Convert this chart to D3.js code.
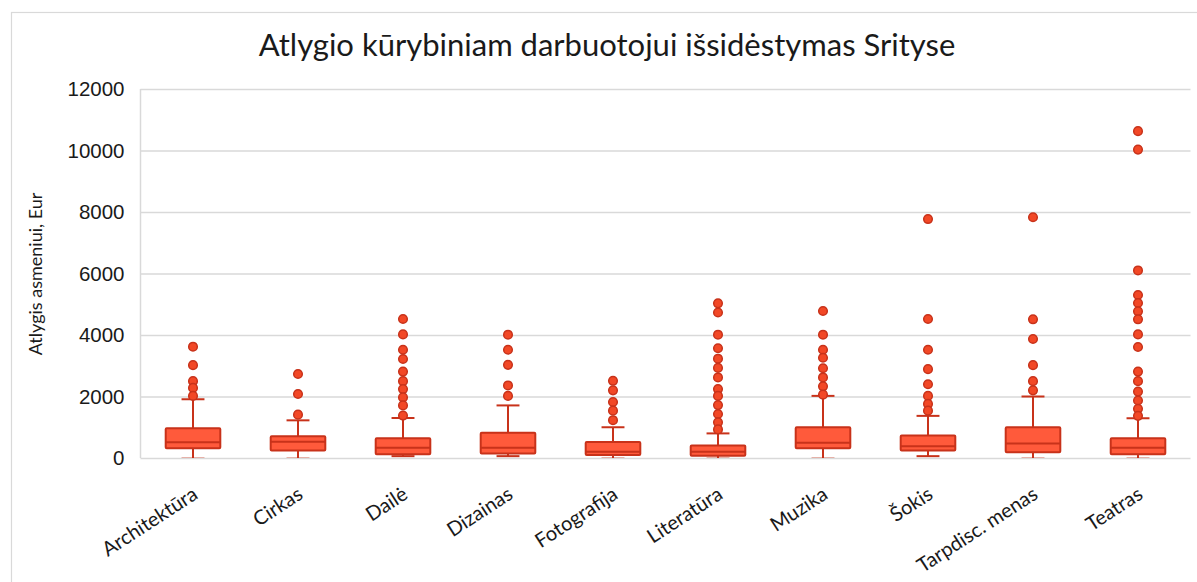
<!DOCTYPE html>
<html>
<head>
<meta charset="utf-8">
<script src="https://cdn.jsdelivr.net/npm/d3@7"></script>
<style>
  body { margin: 0; background: #fff; }
  svg { display: block; font-family: Lato, "Open Sans", sans-serif; }
</style>
</head>
<body>
<svg id="chart"></svg>
<script>
// Atlygio kurybiniam darbuotojui issidestymas pagal sritis (box plot)

const categories = ["Architektūra", "Cirkas", "Dailė", "Dizainas", "Fotografija",
    "Literatūra", "Muzika", "Šokis", "Tarpdisc. menas", "Teatras"]

const whiskerLow = [0, 0, 60, 60, 0, 0, 0, 60, 0, 0]
const q1 = [315, 240, 120, 150, 100, 75, 315, 240, 185, 120]
const median = [510, 525, 335, 335, 205, 200, 500, 380, 475, 335]
const q3 = [966, 705, 640, 820, 520, 410, 1000, 735, 1000, 640]
const whiskerHigh = [1910, 1225, 1300, 1710, 1000, 800, 2020, 1370, 2000, 1290]

const outliers = [
    [3620, 3020, 2500, 2280, 2020],
    [2730, 2080, 1410],
    [4520, 4020, 3520, 3220, 2810, 2500, 2240, 1970, 1710, 1380],
    [4010, 3520, 3030, 2360, 2020],
    [2510, 2200, 1820, 1540, 1230],
    [5030, 4730, 4010, 3570, 3230, 2930, 2620, 2240, 2020, 1720, 1430, 1160, 930],
    [4780, 4010, 3520, 3260, 2920, 2620, 2330, 2060],
    [7770, 4520, 3520, 2890, 2400, 2020, 1760, 1540],
    [7830, 4510, 3870, 3020, 2500, 2200],
    [10630, 10030, 6100, 5300, 5040, 4770, 4510, 4020, 3610, 2810, 2500, 2160, 1870, 1600, 1370]
]

const yTicks = [0, 2000, 4000, 6000, 8000, 10000, 12000]

const title = "Atlygio kūrybiniam darbuotojui išsidėstymas Srityse"
const yTitle = "Atlygis asmeniui, Eur"

const width = 1197
const height = 582
const plot = { left: 140.5, right: 1190.5, top: 89, bottom: 458 }

const boxFill = "#ff5a3b"
const boxStroke = "#c8321a"
const dotFill = "#f24826"

const svg = d3.select("#chart")
    .attr("width", width)
    .attr("height", height)

// chart frame (only left/top edges are visible in the picture)
svg.append("rect")
    .attr("x", 11.5).attr("y", 12.5)
    .attr("width", width + 20).attr("height", height + 20)
    .attr("fill", "none")
    .attr("stroke", "#d9d9d9")
    .attr("stroke-width", 1.2)

const x = d3.scaleBand()
    .domain(categories)
    .range([plot.left, plot.right])

const y = d3.scaleLinear()
    .domain([0, 12000])
    .range([plot.bottom, plot.top])

// grid
const yAxis = d3.axisLeft(y)
    .tickValues(yTicks)
    .tickSize(-(plot.right - plot.left))
    .tickPadding(16)
    .tickFormat(d3.format("d"))

const gy = svg.append("g")
    .attr("transform", `translate(${plot.left},0)`)
    .call(yAxis)

gy.select(".domain")
    .attr("stroke", "#d9d9d9")
    .attr("stroke-width", 1.5)
    .attr("d", `M0,${plot.top}V${plot.bottom}`)

gy.selectAll(".tick line")
    .attr("stroke", "#d9d9d9")
    .attr("stroke-width", 1.5)

gy.selectAll(".tick text")
    .attr("fill", "#1a1a1a")
    .style("font-size", "20.5px")

// clip so that caps sitting on zero get cut like in the original
svg.append("clipPath").attr("id", "plotClip")
    .append("rect")
    .attr("x", plot.left).attr("y", plot.top - 10)
    .attr("width", plot.right - plot.left)
    .attr("height", plot.bottom - plot.top + 10)

const boxW = x.bandwidth() * 0.52
const capW = boxW * 0.42

const cell = svg.append("g")
    .attr("clip-path", "url(#plotClip)")
    .selectAll("g")
    .data(categories)
    .join("g")
    .attr("transform", d => `translate(${x(d) + x.bandwidth() / 2},0)`)

// whiskers
cell.append("line")
    .attr("y1", (d, i) => y(whiskerHigh[i]))
    .attr("y2", (d, i) => y(q3[i]))
    .attr("stroke", boxStroke).attr("stroke-width", 2)

cell.append("line")
    .attr("y1", (d, i) => y(q1[i]))
    .attr("y2", (d, i) => y(whiskerLow[i]))
    .attr("stroke", boxStroke).attr("stroke-width", 2)

cell.append("line")
    .attr("x1", -capW / 2).attr("x2", capW / 2)
    .attr("y1", (d, i) => y(whiskerHigh[i]))
    .attr("y2", (d, i) => y(whiskerHigh[i]))
    .attr("stroke", boxStroke).attr("stroke-width", 2)

cell.append("line")
    .attr("x1", -capW / 2).attr("x2", capW / 2)
    .attr("y1", (d, i) => y(whiskerLow[i]))
    .attr("y2", (d, i) => y(whiskerLow[i]))
    .attr("stroke", boxStroke).attr("stroke-width", 2)
    .attr("opacity", (d, i) => whiskerLow[i] == 0 ? 0.35 : 1)

// boxes
cell.append("rect")
    .attr("x", -boxW / 2)
    .attr("width", boxW)
    .attr("y", (d, i) => y(q3[i]))
    .attr("height", (d, i) => y(q1[i]) - y(q3[i]))
    .attr("fill", boxFill)
    .attr("stroke", boxStroke)
    .attr("stroke-width", 2)
    .attr("rx", 1)

cell.append("line")
    .attr("x1", -boxW / 2).attr("x2", boxW / 2)
    .attr("y1", (d, i) => y(median[i]))
    .attr("y2", (d, i) => y(median[i]))
    .attr("stroke", boxStroke).attr("stroke-width", 2)

// outliers
cell.selectAll("circle")
    .data((d, i) => outliers[i])
    .join("circle")
    .attr("cx", 0)
    .attr("cy", d => y(d))
    .attr("r", 4.3)
    .attr("fill", dotFill)
    .attr("stroke", boxStroke)
    .attr("stroke-width", 1.5)

// category labels, rotated
svg.append("g")
    .selectAll("text")
    .data(categories)
    .join("text")
    .attr("transform", d => `translate(${x(d) + x.bandwidth() / 2 - 2},485) rotate(-33)`)
    .attr("text-anchor", "end")
    .attr("dy", "0.75em")
    .attr("fill", "#1a1a1a")
    .style("font-size", "20px")
    .text(d => d)

// titles
svg.append("text")
    .attr("x", 607)
    .attr("y", 56)
    .attr("text-anchor", "middle")
    .attr("fill", "#1a1a1a")
    .style("font-size", "31px")
    .text(title)

svg.append("text")
    .attr("transform", "translate(42,274) rotate(-90)")
    .attr("text-anchor", "middle")
    .attr("fill", "#1a1a1a")
    .style("font-size", "18px")
    .text(yTitle)
</script>
</body>
</html>
